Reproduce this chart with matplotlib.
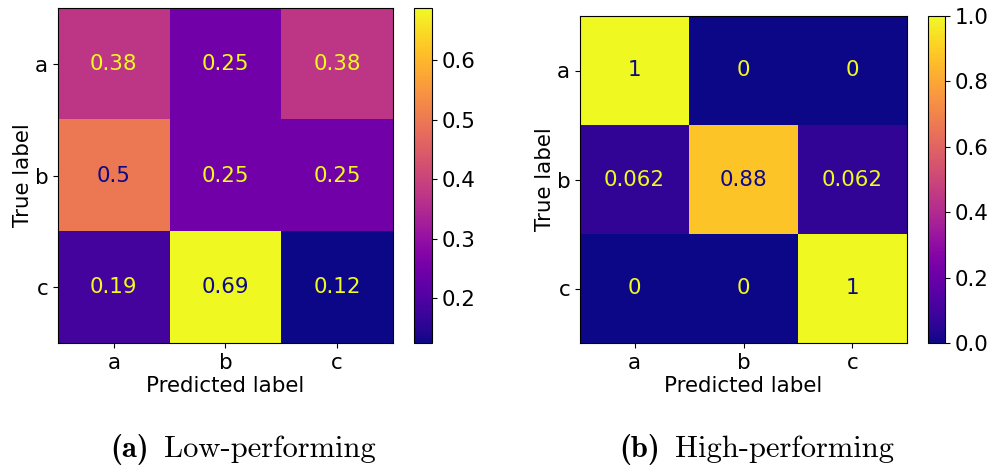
import numpy as np
import matplotlib
matplotlib.use("Agg")
import matplotlib.pyplot as plt

labels = ["a", "b", "c"]
low_cm = np.array([[0.375, 0.25, 0.375],
                   [0.5, 0.25, 0.25],
                   [0.1875, 0.6875, 0.125]])
high_cm = np.array([[1.0, 0.0, 0.0],
                    [0.0625, 0.875, 0.0625],
                    [0.0, 0.0, 1.0]])
cap_tags = ["(a)", "(b)"]
cap_texts = ["Low-performing", "High-performing"]

FS = 15.4
CAP_FS = 22

fig = plt.figure(figsize=(9.89, 4.66), dpi=100)
renderer = fig.canvas.get_renderer()

def caption(tag, txt, cx_px, base_px):
    t1 = fig.text(0, 0, tag, fontsize=CAP_FS, family="cmb10", ha="left", va="baseline")
    t2 = fig.text(0, 0, txt, fontsize=CAP_FS, family="cmr10", ha="left", va="baseline")
    w1 = t1.get_window_extent(renderer).width
    w2 = t2.get_window_extent(renderer).width
    gap = 15
    total = w1 + gap + w2
    x0 = cx_px - total / 2
    y = (466 - base_px) / 466
    t1.set_position((x0 / 989, y))
    t2.set_position(((x0 + w1 + gap) / 989, y))

def draw(cm, ax_rect, cb_rect):
    ax = fig.add_axes(ax_rect)
    cax = fig.add_axes(cb_rect)
    cmap = plt.get_cmap("plasma")
    im = ax.imshow(cm, cmap=cmap, interpolation="nearest", aspect="auto")
    cmin, cmax = cmap(0.0), cmap(1.0)
    thresh = (cm.max() + cm.min()) / 2.0
    for i in range(cm.shape[0]):
        for j in range(cm.shape[1]):
            color = cmax if cm[i, j] < thresh else cmin
            ax.text(j, i, format(cm[i, j], ".2g"), ha="center", va="center",
                    color=color, fontsize=FS)
    ax.set_xticks(range(len(labels)))
    ax.set_yticks(range(len(labels)))
    ax.set_xticklabels(labels, fontsize=FS)
    ax.set_yticklabels(labels, fontsize=FS)
    ax.set_xlabel("Predicted label", fontsize=FS, labelpad=2)
    ax.set_ylabel("True label", fontsize=FS, labelpad=1)
    cb = fig.colorbar(im, cax=cax)
    cb.ax.tick_params(labelsize=FS)
    cb.outline.set_linewidth(0.8)

draw(low_cm, [58/989, 123/466, 335/989, 335/466], [414/989, 123/466, 18/989, 335/466])
draw(high_cm, [580/989, 123/466, 327/989, 327/466], [928/989, 123/466, 17/989, 327/466])
caption(cap_tags[0], cap_texts[0], 243, 457)
caption(cap_tags[1], cap_texts[1], 757, 457)

fig.savefig("out.png", dpi=100)
